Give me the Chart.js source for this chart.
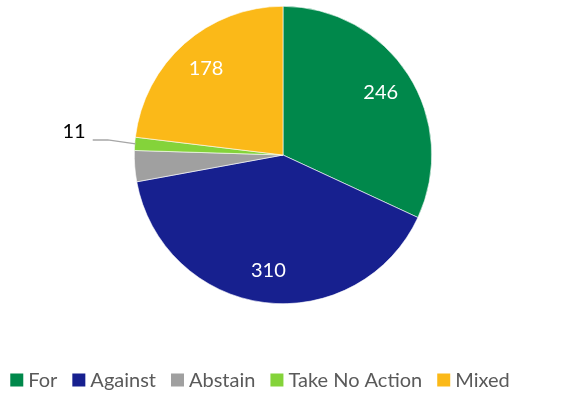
<!DOCTYPE html>
<html>
<head>
<meta charset="utf-8">
<script src="https://cdn.jsdelivr.net/npm/chart.js@4.4.1/dist/chart.umd.min.js"></script>
<style>
  html, body { margin: 0; padding: 0; background: #fff; }
  #wrap { width: 578px; height: 395px; position: relative; }
</style>
</head>
<body>
<div id="wrap"><canvas id="votes"></canvas></div>
<script>
const categories = ['For', 'Against', 'Abstain', 'Take No Action', 'Mixed'];
const votes = [246, 310, 26, 11, 178];
const colors = ['#00884B', '#17208F', '#A0A0A0', '#84D33A', '#FBB918'];

// how each slice gets its number: inside, outside with a leader, or none
const labelMode = ['in', 'in', 'none', 'out', 'in'];
const FONT = 'Lato, "Open Sans", sans-serif';

const sliceLabels = {
    id: 'sliceLabels',
    afterDatasetsDraw(chart) {
        const ctx = chart.ctx;
        const meta = chart.getDatasetMeta(0);
        ctx.save();
        ctx.font = '20px ' + FONT;
        meta.data.forEach((arc, i) => {
            const p = arc.getProps(['x', 'y', 'startAngle', 'endAngle', 'outerRadius'], true);
            const mid = (p.startAngle + p.endAngle) / 2;
            const value = String(votes[i]);
            if (labelMode[i] === 'in') {
                const r = p.outerRadius * 0.78;
                ctx.fillStyle = '#fff';
                ctx.textAlign = 'center';
                ctx.textBaseline = 'middle';
                ctx.fillText(value, p.x + Math.cos(mid) * r, p.y + Math.sin(mid) * r);
            } else if (labelMode[i] === 'out') {
                const ex = p.x + Math.cos(mid) * (p.outerRadius - 1);
                const ey = p.y + Math.sin(mid) * (p.outerRadius - 1);
                ctx.strokeStyle = '#A6A6A6';
                ctx.lineWidth = 1.5;
                ctx.beginPath();
                ctx.moveTo(ex, ey);
                ctx.lineTo(ex - 28, ey - 4);
                ctx.lineTo(ex - 43, ey - 4);
                ctx.stroke();
                ctx.fillStyle = '#000';
                ctx.textAlign = 'right';
                ctx.textBaseline = 'middle';
                ctx.fillText(value, ex - 50, ey - 12);
            }
        });
        ctx.restore();
    }
};

// single row legend under the pie
const rowLegend = {
    id: 'rowLegend',
    afterDraw(chart) {
        const ctx = chart.ctx;
        ctx.save();
        ctx.font = '20px ' + FONT;
        const box = 13, gapIn = 5, gapOut = 15;
        const widths = categories.map(c => ctx.measureText(c).width);
        let total = 0;
        widths.forEach(w => { total += box + gapIn + w; });
        total += gapOut * (categories.length - 1);
        let x = 260 - total / 2;
        const cy = 380;
        categories.forEach((c, i) => {
            ctx.fillStyle = colors[i];
            ctx.fillRect(x, cy - box / 2, box, box);
            ctx.fillStyle = '#5A5A5A';
            ctx.textAlign = 'left';
            ctx.textBaseline = 'middle';
            ctx.fillText(c, x + box + gapIn, cy + 1);
            x += box + gapIn + widths[i] + gapOut;
        });
        ctx.restore();
    }
};

new Chart(document.getElementById('votes'), {
    type: 'pie',
    data: {
        labels: categories,
        datasets: [{
            data: votes,
            backgroundColor: colors,
            borderColor: '#ffffff',
            borderWidth: 0.6
        }]
    },
    options: {
        responsive: true,
        maintainAspectRatio: false,
        animation: false,
        layout: { padding: { top: 6, bottom: 91, left: 0, right: 12 } },
        plugins: {
            legend: { display: false },
            tooltip: { enabled: false }
        }
    },
    plugins: [sliceLabels, rowLegend]
});
</script>
</body>
</html>
